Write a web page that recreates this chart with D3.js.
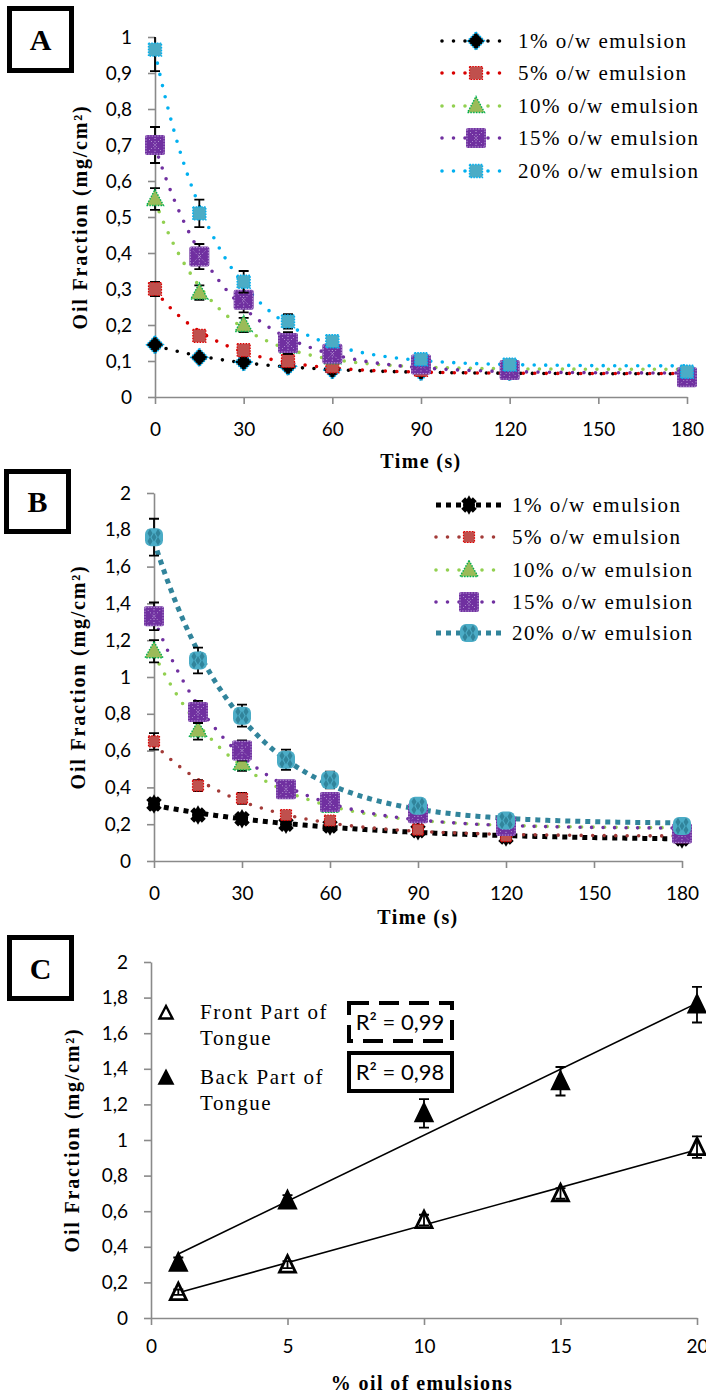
<!DOCTYPE html>
<html>
<head>
<meta charset="utf-8">
<script src="https://cdn.jsdelivr.net/npm/d3@7"></script>
<style>
  body { margin: 0; background: #fff; }
  svg { display: block; }
</style>
</head>
<body>
<svg id="fig" width="706" height="1396"></svg>
<script>
// ---- data ---------------------------------------------------------------
const times = [0, 15, 30, 45, 60, 90, 120, 180];
const timeTicks = [0, 30, 60, 90, 120, 150, 180];
const emulsionLabels = ["1% o/w emulsion", "5% o/w emulsion", "10% o/w emulsion", "15% o/w emulsion", "20% o/w emulsion"];

// Panel A: oil fraction (mg/cm²) vs time, front part of tongue
const frontOil1  = [0.145, 0.110, 0.097, 0.085, 0.075, 0.070, 0.070, 0.060];
const frontOil5  = [0.300, 0.170, 0.130, 0.100, 0.085, 0.075, 0.070, 0.050];
const frontOil10 = [0.550, 0.290, 0.200, 0.140, 0.110, 0.090, 0.080, 0.060];
const frontOil15 = [0.700, 0.390, 0.270, 0.150, 0.120, 0.090, 0.075, 0.055];
const frontOil20 = [0.965, 0.510, 0.320, 0.210, 0.155, 0.105, 0.090, 0.070];
const frontErr1  = [0.010, 0.010, 0.010, 0.010, 0.010, 0.010, 0.005, 0.005];
const frontErr5  = [0.020, 0.010, 0.010, 0.010, 0.010, 0.010, 0.005, 0.005];
const frontErr10 = [0.030, 0.020, 0.020, 0.020, 0.010, 0.010, 0.010, 0.005];
const frontErr15 = [0.050, 0.035, 0.035, 0.030, 0.020, 0.015, 0.010, 0.010];
const frontErr20 = [0.060, 0.038, 0.030, 0.020, 0.015, 0.010, 0.010, 0.010];
const yTicksA = [0, 0.1, 0.2, 0.3, 0.4, 0.5, 0.6, 0.7, 0.8, 0.9, 1];

// Panel B: oil fraction (mg/cm²) vs time, back part of tongue
const backOil1  = [0.310, 0.250, 0.230, 0.200, 0.190, 0.165, 0.130, 0.120];
const backOil5  = [0.650, 0.410, 0.340, 0.250, 0.220, 0.170, 0.135, 0.130];
const backOil10 = [1.140, 0.710, 0.530, 0.380, 0.300, 0.260, 0.190, 0.150];
const backOil15 = [1.330, 0.810, 0.600, 0.390, 0.320, 0.260, 0.190, 0.150];
const backOil20 = [1.760, 1.090, 0.790, 0.550, 0.440, 0.300, 0.220, 0.190];
const backErr1  = [0.030, 0.020, 0.020, 0.020, 0.020, 0.020, 0.010, 0.010];
const backErr5  = [0.045, 0.030, 0.030, 0.020, 0.020, 0.020, 0.010, 0.010];
const backErr10 = [0.060, 0.050, 0.040, 0.030, 0.030, 0.020, 0.020, 0.010];
const backErr15 = [0.075, 0.060, 0.055, 0.040, 0.030, 0.030, 0.020, 0.020];
const backErr20 = [0.100, 0.070, 0.060, 0.055, 0.045, 0.030, 0.020, 0.020];
const yTicksB = [0, 0.2, 0.4, 0.6, 0.8, 1, 1.2, 1.4, 1.6, 1.8, 2];

// Panel C: initial oil fraction vs oil content of the emulsion
const oilPercent = [1, 5, 10, 15, 20];
const frontPart = [0.145, 0.300, 0.550, 0.700, 0.960];
const backPart  = [0.310, 0.660, 1.150, 1.330, 1.760];
const frontPartErr = [0.015, 0.020, 0.030, 0.030, 0.060];
const backPartErr  = [0.030, 0.030, 0.080, 0.080, 0.100];
const oilTicks = [0, 5, 10, 15, 20];
const yTicksC = [0, 0.2, 0.4, 0.6, 0.8, 1, 1.2, 1.4, 1.6, 1.8, 2];
const rSquaredLabels = ["R² = 0,99", "R² = 0,98"];
const tongueLabels = [["Front Part of", "Tongue"], ["Back Part of", "Tongue"]];

// ---- helpers ------------------------------------------------------------
const svg = d3.select("#fig");
svg.append("rect").attr("width", 706).attr("height", 1396).attr("fill", "#fff");

const AXIS_GREY = "#8a8a8a";
const TICK_FONT = "Lato, 'Open Sans', sans-serif";
const SERIF = "'Liberation Serif', 'Times New Roman', serif";

const fmtTick = d => Number.isInteger(d) ? String(d) : d.toFixed(1).replace(".", ",");

// exponential decay with offset, least squares on the rate constant grid
function fitDecay(xs, ys) {
  let best = null;
  for (let k = 0.002; k <= 0.3; k += 0.0005) {
    const e = xs.map(t => Math.exp(-k * t));
    const me = d3.mean(e), my = d3.mean(ys);
    let sxy = 0, sxx = 0;
    e.forEach((v, i) => { sxy += (v - me) * (ys[i] - my); sxx += (v - me) ** 2; });
    const a = sxy / sxx, c = my - a * me;
    const sse = d3.sum(e, (v, i) => (a * v + c - ys[i]) ** 2);
    if (!best || sse < best.sse) best = { a, c, k, sse };
  }
  return t => best.a * Math.exp(-best.k * t) + best.c;
}

function fitLinear(xs, ys) {
  const mx = d3.mean(xs), my = d3.mean(ys);
  let sxy = 0, sxx = 0;
  xs.forEach((x, i) => { sxy += (x - mx) * (ys[i] - my); sxx += (x - mx) ** 2; });
  const b = sxy / sxx, a = my - b * mx;
  return x => a + b * x;
}

function panelBox(letter, x, y, w, h) {
  svg.append("rect").attr("x", x + 2.5).attr("y", y + 2.5)
    .attr("width", w - 5).attr("height", h - 5)
    .attr("fill", "#fff").attr("stroke", "#000").attr("stroke-width", 5);
  svg.append("text").attr("x", x + w / 2).attr("y", y + h / 2).attr("dy", "0.36em")
    .attr("text-anchor", "middle").attr("font-family", SERIF)
    .attr("font-weight", "bold").attr("font-size", 30).text(letter);
}

function styleAxis(g) {
  g.attr("font-family", null).attr("font-size", null);
  g.selectAll("path, line").attr("stroke", AXIS_GREY).attr("stroke-width", 1.6);
  g.selectAll("text").attr("font-family", TICK_FONT).attr("font-size", 19).attr("fill", "#000");
}

function drawAxes(x, y, xTicks, yTicks, xPad) {
  const [x0] = x.range();
  const [yBot] = y.range();
  svg.append("g").attr("transform", `translate(${x0},0)`)
    .call(d3.axisLeft(y).tickValues(yTicks).tickFormat(fmtTick)
      .tickSize(7).tickSizeOuter(0).tickPadding(16))
    .call(styleAxis);
  svg.append("g").attr("transform", `translate(0,${yBot})`)
    .call(d3.axisBottom(x).tickValues(xTicks).tickFormat(d3.format("d"))
      .tickSize(7).tickSizeOuter(0).tickPadding(xPad))
    .call(styleAxis);
}

function axisTitle(text, x, y, rotate) {
  const t = svg.append("text")
    .attr("text-anchor", "middle").attr("font-family", SERIF)
    .attr("font-weight", "bold").attr("font-size", 20)
    .attr("letter-spacing", rotate ? 1.8 : 1.4)
    .attr("dy", "0.35em").text(text);
  if (rotate) t.attr("transform", `translate(${x},${y}) rotate(-90)`);
  else t.attr("x", x).attr("y", y);
}

// ---- marker shapes ------------------------------------------------------
function dotted(sel, color, w) {
  return sel.attr("stroke", color).attr("stroke-width", w || 1.4).attr("stroke-dasharray", "1.5,1.3");
}

function drawMarker(g, kind, cx, cy) {
  const m = g.append("g").attr("transform", `translate(${cx},${cy})`);
  if (kind === "diamond") {
    dotted(m.append("path").attr("d", "M0,-9L8.5,0L0,9L-8.5,0Z").attr("fill", "#000"), "#00B0F0", 1.6);
  } else if (kind === "redSquare" || kind === "redSquareSmall") {
    const s = kind === "redSquare" ? 6.5 : 5.5;
    dotted(m.append("rect").attr("x", -s).attr("y", -s).attr("width", 2 * s).attr("height", 2 * s)
      .attr("fill", "#C0504D"), "#E00000", 1.2);
  } else if (kind === "greenTri" || kind === "greenTriB") {
    const w = kind === "greenTri" ? 8.5 : 9;
    dotted(m.append("path").attr("d", `M0,-9.5L${w},6.5L${-w},6.5Z`).attr("fill", "#9BBB59"), "#00B050", 1.4);
  } else if (kind === "purpleSquare") {
    m.append("rect").attr("x", -10).attr("y", -10).attr("width", 20).attr("height", 20)
      .attr("rx", 2).attr("fill", "#7030A0");
    dotted(m.append("rect").attr("x", -9).attr("y", -9).attr("width", 18).attr("height", 18)
      .attr("fill", "none"), "#B89CD6", 1);
    m.append("path").attr("d", "M-6,-6L6,6M6,-6L-6,6M0,-7V7")
      .attr("stroke", "#C8B4E0").attr("stroke-width", 1).attr("stroke-dasharray", "1,2.2").attr("fill", "none");
  } else if (kind === "blueSquare") {
    dotted(m.append("rect").attr("x", -6.5).attr("y", -6.5).attr("width", 13).attr("height", 13)
      .attr("fill", "#4BACC6"), "#00B0F0", 1.4);
  } else if (kind === "blackStar") {
    m.append("path").attr("d", d3.symbol(d3.symbolCross, 150)())
      .attr("transform", "rotate(45)").attr("fill", "#000");
    m.append("path").attr("d", d3.symbol(d3.symbolDiamond, 110)()).attr("fill", "#000");
    m.append("circle").attr("r", 6).attr("fill", "#000");
  } else if (kind === "tealBlob") {
    m.append("rect").attr("x", -9).attr("y", -9).attr("width", 18).attr("height", 18)
      .attr("rx", 6).attr("fill", "#4BACC6");
    [[-4, -4], [4, -4], [0, 0], [-4, 4], [4, 4]].forEach(([dx, dy]) => {
      m.append("path").attr("d", d3.symbol(d3.symbolDiamond, 22)())
        .attr("transform", `translate(${dx},${dy})`).attr("fill", "#31849B");
    });
  } else if (kind === "triOpen" || kind === "triFilled" || kind === "triOpenSmall" || kind === "triFilledSmall") {
    const small = kind.endsWith("Small");
    const w = small ? 6.5 : 8, h1 = small ? 7 : 9, h2 = small ? 5.5 : 7.5;
    const filled = kind.startsWith("triFilled");
    m.append("path").attr("d", `M0,${-h1}L${w},${h2}L${-w},${h2}Z`)
      .attr("fill", filled ? "#000" : "#fff").attr("stroke", "#000")
      .attr("stroke-width", small ? 2.4 : 2.8).attr("stroke-linejoin", "miter");
  }
}

function errorBar(g, x, yLo, yHi, cap) {
  g.append("path")
    .attr("d", `M${x},${yLo}V${yHi}M${x - cap},${yLo}H${x + cap}M${x - cap},${yHi}H${x + cap}`)
    .attr("stroke", "#000").attr("stroke-width", 1.8).attr("fill", "none");
}

const roundDots = { width: 3.6, dash: "0,11.5", cap: "round" };
const squareDots = { width: 5, dash: "5,5", cap: "butt" };

// ---- time-course panel --------------------------------------------------
function timePanel(cfg) {
  const x = d3.scaleLinear().domain([0, 180]).range([cfg.x0, cfg.x1]);
  const y = d3.scaleLinear().domain([0, cfg.ymax]).range([cfg.yBot, cfg.yTop]);

  drawAxes(x, y, timeTicks, cfg.yTicks, 19);

  const clipId = "clip" + cfg.id;
  svg.append("clipPath").attr("id", clipId).append("rect")
    .attr("x", cfg.x0 - 40).attr("y", cfg.yTop).attr("width", cfg.x1 - cfg.x0 + 80)
    .attr("height", cfg.yBot - cfg.yTop + 30);
  const plot = svg.append("g").attr("clip-path", `url(#${clipId})`);

  const line = d3.line();
  const grid = d3.range(0, 180.01, 1);
  cfg.series.forEach(s => {
    const f = fitDecay(times, s.values);
    plot.append("path")
      .attr("d", line(grid.map(t => [x(t), y(f(t))])))
      .attr("fill", "none").attr("stroke", s.color)
      .attr("stroke-width", s.style.width).attr("stroke-dasharray", s.style.dash)
      .attr("stroke-linecap", s.style.cap);
  });
  cfg.series.forEach(s => {
    s.values.forEach((v, i) => {
      errorBar(plot, x(times[i]), y(v - s.err[i]), y(v + s.err[i]), 5);
    });
    s.values.forEach((v, i) => drawMarker(plot, s.marker, x(times[i]), y(v)));
  });

  // legend
  cfg.series.forEach((s, i) => {
    const ly = cfg.legend.rows[i];
    svg.append("path")
      .attr("d", line([[cfg.legend.x0, ly], [cfg.legend.x1, ly]]))
      .attr("stroke", s.color).attr("stroke-width", s.style.width)
      .attr("stroke-dasharray", s.style.dash).attr("stroke-linecap", s.style.cap);
    drawMarker(svg, s.marker, cfg.legend.xm, ly);
    svg.append("text").attr("x", cfg.legend.xt).attr("y", ly).attr("dy", "0.33em")
      .attr("font-family", SERIF).attr("font-size", 21).attr("letter-spacing", 1.5)
      .text(emulsionLabels[i]);
  });

  axisTitle("Oil Fraction (mg/cm²)", cfg.yTitle[0], cfg.yTitle[1], true);
  axisTitle("Time (s)", cfg.xTitle[0], cfg.xTitle[1], false);
}

// Panel A
panelBox("A", 7, 6, 67, 67);
timePanel({
  id: "A", x0: 155, x1: 687, yTop: 37, yBot: 397, ymax: 1, yTicks: yTicksA,
  yTitle: [80, 217], xTitle: [421, 461],
  legend: { x0: 442, x1: 508, xm: 476, xt: 518, rows: [41, 73, 106, 138, 171] },
  series: [
    { values: frontOil1,  err: frontErr1,  color: "#000000", marker: "diamond",      style: roundDots },
    { values: frontOil5,  err: frontErr5,  color: "#D80000", marker: "redSquare",    style: roundDots },
    { values: frontOil10, err: frontErr10, color: "#92D050", marker: "greenTri",     style: roundDots },
    { values: frontOil15, err: frontErr15, color: "#7030A0", marker: "purpleSquare", style: roundDots },
    { values: frontOil20, err: frontErr20, color: "#00B0F0", marker: "blueSquare",   style: roundDots }
  ]
});

// Panel B
panelBox("B", 4, 469, 67, 65);
timePanel({
  id: "B", x0: 154, x1: 682, yTop: 493, yBot: 861, ymax: 2, yTicks: yTicksB,
  yTitle: [78, 677], xTitle: [418, 917],
  legend: { x0: 436, x1: 502, xm: 469, xt: 512, rows: [505, 537, 570, 602, 633] },
  series: [
    { values: backOil1,  err: backErr1,  color: "#000000", marker: "blackStar",      style: squareDots },
    { values: backOil5,  err: backErr5,  color: "#A33B38", marker: "redSquareSmall", style: roundDots },
    { values: backOil10, err: backErr10, color: "#92D050", marker: "greenTriB",      style: roundDots },
    { values: backOil15, err: backErr15, color: "#7030A0", marker: "purpleSquare",   style: roundDots },
    { values: backOil20, err: backErr20, color: "#31849B", marker: "tealBlob",       style: squareDots }
  ]
});

// ---- Panel C: oil fraction vs oil content -------------------------------
panelBox("C", 7, 935, 67, 66);
(function () {
  const x = d3.scaleLinear().domain([0, 20]).range([151, 697]);
  const y = d3.scaleLinear().domain([0, 2]).range([1318, 962]);
  drawAxes(x, y, oilTicks, yTicksC, 15);

  const line = d3.line();
  const groups = [
    { values: frontPart, err: frontPartErr, marker: "triOpen" },
    { values: backPart,  err: backPartErr,  marker: "triFilled" }
  ];
  groups.forEach(gp => {
    const f = fitLinear(oilPercent, gp.values);
    const x0 = d3.min(oilPercent), x1 = d3.max(oilPercent);
    svg.append("path").attr("d", line([[x(x0), y(f(x0))], [x(x1), y(f(x1))]]))
      .attr("stroke", "#000").attr("stroke-width", 1.6).attr("fill", "none");
  });
  groups.forEach(gp => {
    gp.values.forEach((v, i) => drawMarker(svg, gp.marker, x(oilPercent[i]), y(v)));
    gp.values.forEach((v, i) => errorBar(svg, x(oilPercent[i]), y(v - gp.err[i]), y(v + gp.err[i]), 5));
  });

  // legend
  [["triOpenSmall", 1013], ["triFilledSmall", 1078]].forEach(([kind, ly], i) => {
    drawMarker(svg, kind, 166, ly);
    tongueLabels[i].forEach((txt, j) => {
      svg.append("text").attr("x", 200).attr("y", ly - 1 + j * 26).attr("dy", "0.33em")
        .attr("font-family", SERIF).attr("font-size", 21).attr("letter-spacing", 1.6).text(txt);
    });
  });

  // R² boxes
  const boxes = [
    { y: 1003, dash: "20,10" },
    { y: 1053, dash: null }
  ];
  boxes.forEach((b, i) => {
    svg.append("rect").attr("x", 349).attr("y", b.y).attr("width", 103).attr("height", 38)
      .attr("fill", "#fff").attr("stroke", "#000").attr("stroke-width", 4)
      .attr("stroke-dasharray", b.dash);
    svg.append("text").attr("x", 400).attr("y", b.y + 19).attr("dy", "0.36em")
      .attr("text-anchor", "middle").attr("font-family", TICK_FONT).attr("font-size", 22)
      .text(rSquaredLabels[i]);
  });

  axisTitle("Oil Fraction (mg/cm²)", 72, 1140, true);
  axisTitle("% oil of emulsions", 422, 1383, false);
})();
</script>
</body>
</html>
